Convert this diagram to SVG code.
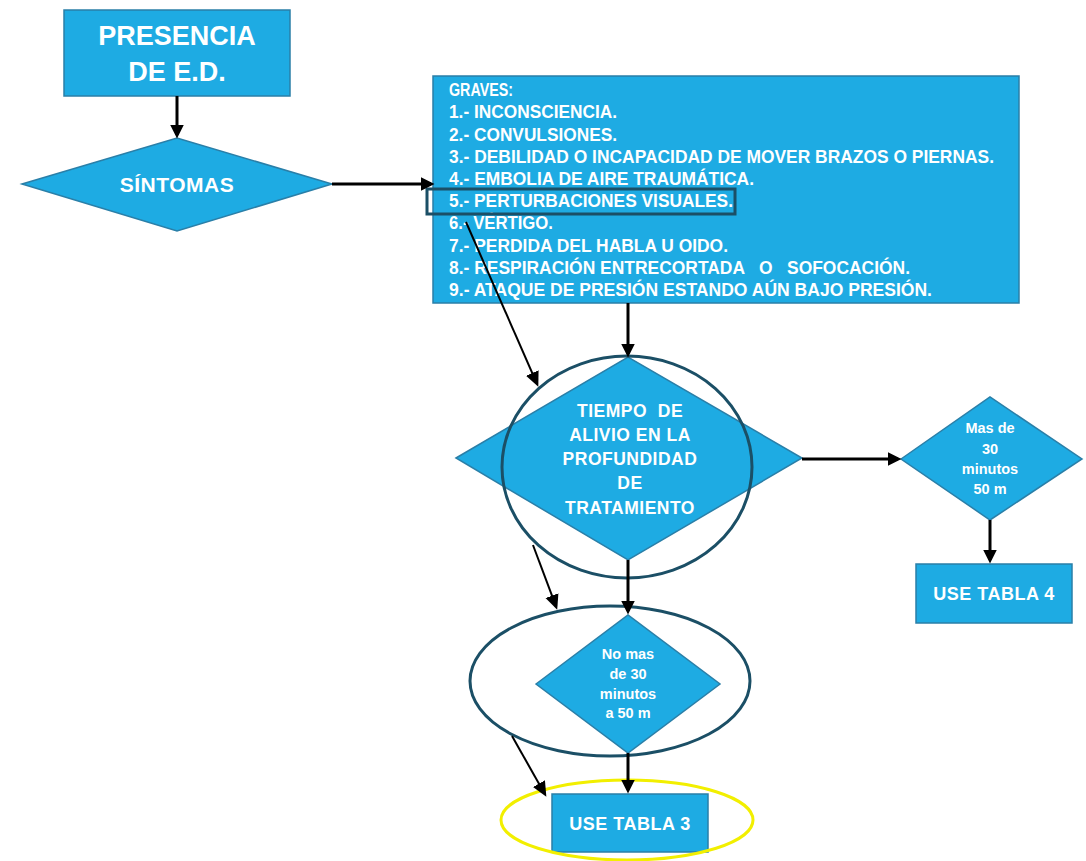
<svg xmlns="http://www.w3.org/2000/svg" width="1086" height="861" viewBox="0 0 1086 861">
<defs>
<style>
.n{fill:#1eabe3;stroke:#2a7fa8;stroke-width:1.5}
.t{font-family:"Liberation Sans",Arial,sans-serif;font-weight:bold;fill:#ffffff;text-anchor:middle}
.l{font-family:"Liberation Sans",Arial,sans-serif;font-weight:bold;fill:#ffffff;font-size:17.5px}
.thick{stroke:#000;stroke-width:3;fill:none;marker-end:url(#ah)}
.thin{stroke:#000;stroke-width:2;fill:none;marker-end:url(#ah2)}
.ring{fill:none;stroke:#1b4f66;stroke-width:3}
</style>
<marker id="ah" markerUnits="userSpaceOnUse" markerWidth="14" markerHeight="14" viewBox="0 0 12 12" refX="9" refY="6" orient="auto"><path d="M0,0 L12,6 L0,12 Z" fill="#000"/></marker>
<marker id="ah2" markerUnits="userSpaceOnUse" markerWidth="15" markerHeight="15" viewBox="0 0 12 12" refX="9" refY="6" orient="auto"><path d="M0,0.5 L12,6 L0,11.5 Z" fill="#000"/></marker>
</defs>
<rect width="1086" height="861" fill="#ffffff"/>

<g id="presencia">
<rect class="n" x="64" y="10" width="226" height="86"/>
<text class="t" x="177" y="45" font-size="27">PRESENCIA</text>
<text class="t" x="177" y="81" font-size="27">DE E.D.</text>
</g>

<g id="sintomas">
<polygon class="n" points="22,184 177,138 332,184 177,231"/>
<text class="t" x="177" y="192" font-size="21" letter-spacing="0.5">SÍNTOMAS</text>
</g>

<g id="graves">
<rect class="n" x="433" y="76" width="586" height="227"/>
<text class="l" x="449" y="96" textLength="64" lengthAdjust="spacingAndGlyphs">GRAVES:</text>
<text class="l" x="449" y="118" textLength="168" lengthAdjust="spacingAndGlyphs">1.- INCONSCIENCIA.</text>
<text class="l" x="449" y="140.5" textLength="168" lengthAdjust="spacingAndGlyphs">2.- CONVULSIONES.</text>
<text class="l" x="449" y="162.8" textLength="545" lengthAdjust="spacingAndGlyphs">3.- DEBILIDAD O INCAPACIDAD DE MOVER BRAZOS O PIERNAS.</text>
<text class="l" x="449" y="185" textLength="305" lengthAdjust="spacingAndGlyphs">4.- EMBOLIA DE AIRE TRAUMÁTICA.</text>
<text class="l" x="449" y="207.2" textLength="284" lengthAdjust="spacingAndGlyphs">5.- PERTURBACIONES VISUALES.</text>
<text class="l" x="449" y="229.4" textLength="104" lengthAdjust="spacingAndGlyphs">6.- VÉRTIGO.</text>
<text class="l" x="449" y="251.6" textLength="279" lengthAdjust="spacingAndGlyphs">7.- PERDIDA DEL HABLA U OIDO.</text>
<text class="l" x="449" y="273.8" textLength="461" lengthAdjust="spacingAndGlyphs" xml:space="preserve">8.- RESPIRACIÓN ENTRECORTADA   O   SOFOCACIÓN.</text>
<text class="l" x="449" y="296" textLength="483" lengthAdjust="spacingAndGlyphs">9.- ATAQUE DE PRESIÓN ESTANDO AÚN BAJO PRESIÓN.</text>
<rect x="427" y="189" width="308" height="25" fill="none" stroke="#1b4f66" stroke-width="3"/>
</g>

<g id="tiempo">
<polygon class="n" points="456,458 628,357 802,458 628,560"/>
<text class="t" x="630" y="417" font-size="17.5" letter-spacing="0.5" xml:space="preserve">TIEMPO  DE</text>
<text class="t" x="630" y="441" font-size="17.5" letter-spacing="0.5">ALIVIO EN LA</text>
<text class="t" x="630" y="465" font-size="17.5" letter-spacing="0.5">PROFUNDIDAD</text>
<text class="t" x="630" y="489" font-size="17.5" letter-spacing="0.5">DE</text>
<text class="t" x="630" y="514" font-size="17.5" letter-spacing="0.5">TRATAMIENTO</text>
</g>
<g id="ring-tiempo">
<ellipse class="ring" cx="627" cy="467" rx="125" ry="111"/>
</g>

<g id="mas30">
<polygon class="n" points="901,459 990,397 1082,459 990,520"/>
<text class="t" x="990" y="433" font-size="14.5">Mas de</text>
<text class="t" x="990" y="454" font-size="14.5">30</text>
<text class="t" x="990" y="474" font-size="14.5">minutos</text>
<text class="t" x="990" y="494" font-size="14.5">50 m</text>
</g>

<g id="tabla4">
<rect class="n" x="916" y="564" width="156" height="59"/>
<text class="t" x="994" y="600" font-size="18" letter-spacing="0.5">USE TABLA 4</text>
</g>

<g id="nomas30">
<polygon class="n" points="536,684 628,615 720,684 628,753"/>
<text class="t" x="628" y="659" font-size="14.5">No mas</text>
<text class="t" x="628" y="679" font-size="14.5">de 30</text>
<text class="t" x="628" y="699" font-size="14.5">minutos</text>
<text class="t" x="628" y="718" font-size="14.5">a 50 m</text>
</g>
<g id="ring-nomas">
<ellipse class="ring" cx="610" cy="681" rx="140" ry="75"/>
</g>

<g id="tabla3">
<rect class="n" x="552" y="794" width="156" height="58"/>
<text class="t" x="630" y="830" font-size="18" letter-spacing="0.5">USE TABLA 3</text>
</g>
<g id="ring-tabla3">
<ellipse cx="627" cy="820" rx="126" ry="40" fill="none" stroke="#f2ef00" stroke-width="3"/>
</g>

<g id="connectors">
<line class="thick" x1="177" y1="96" x2="177" y2="135"/>
<line class="thick" x1="332" y1="184" x2="431" y2="184"/>
<line class="thick" x1="628" y1="303" x2="628" y2="354"/>
<line class="thick" x1="802" y1="459" x2="898" y2="459"/>
<line class="thick" x1="990" y1="520" x2="990" y2="560"/>
<line class="thick" x1="628" y1="560" x2="628" y2="611"/>
<line class="thick" x1="628" y1="753" x2="628" y2="790"/>
<line class="thin" x1="466" y1="222" x2="536.8" y2="383.3"/>
<line class="thin" x1="533" y1="545" x2="555.9" y2="606.2"/>
<line class="thin" x1="512" y1="736" x2="544.5" y2="793.4"/>
</g>
</svg>
